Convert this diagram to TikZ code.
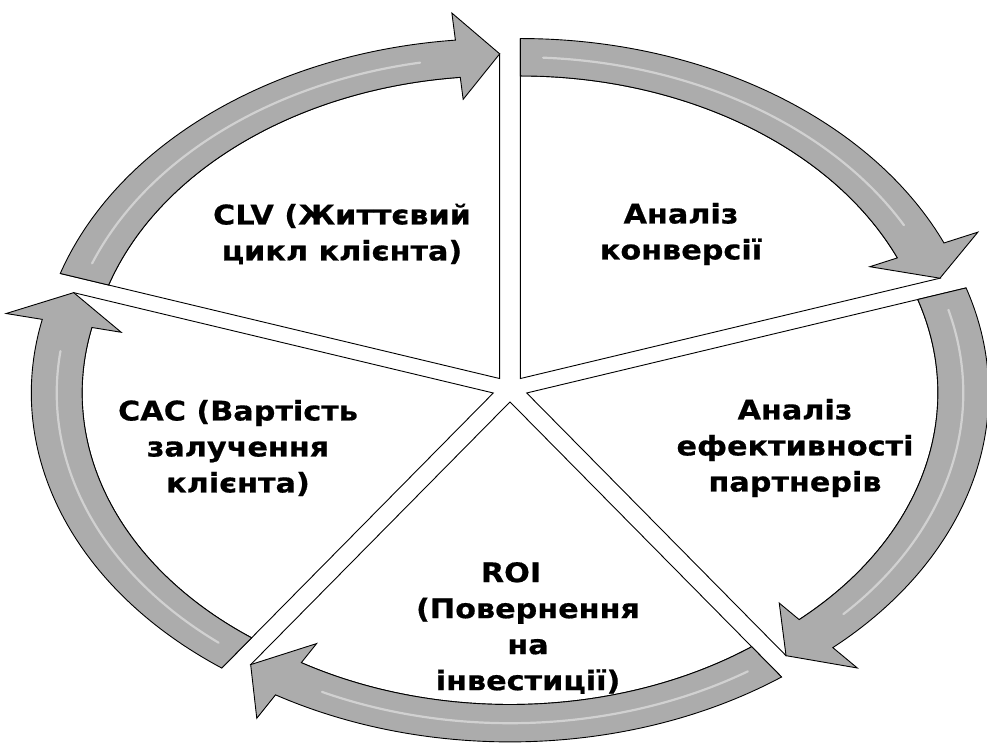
\documentclass[tikz,border=0pt]{standalone}
\usepackage{fontspec}
\newfontfamily\labfont{DejaVu Sans}[FakeStretch=1.12, BoldFeatures={FakeBold=0.6}]
\definecolor{bandgray}{RGB}{172,172,172}
\begin{document}
\begin{tikzpicture}[x=1pt,y=1pt,
  sectorshape/.style={fill=white, draw=black, line width=0.9pt, line join=miter},
  bandshape/.style={fill=bandgray, draw=black, line width=0.9pt, line join=miter},
  gloss/.style={draw=white, opacity=0.45, line width=2.2pt, line cap=round},
  lbl/.style={font=\labfont\bfseries\fontsize{27}{36}\selectfont, align=center, text=black}]
\useasboundingbox (0,0) rectangle (987,749);
\begin{scope}[shift={(510pt,360pt)}, x=462pt, y=340pt]
 \foreach \s/\e in {162/90, 90/18, 18/-54, -54/-126, -126/-198}{
   \pgfmathsetmacro\b{(\s+\e)/2}
   \pgfmathsetmacro\h{\e+5.5}
   \pgfmathsetmacro\gs{\s-3}
   \pgfmathsetmacro\ge{\h+5}
   \begin{scope}[shift={(\b:0.038)}]
     \filldraw[sectorshape] (0,0) -- (\s:1) -- (\s:0.89) arc[start angle=\s, end angle=\h, radius=0.89] -- (\e:0.955) -- cycle;
     \filldraw[bandshape] (\s:1) arc[start angle=\s, end angle=\h, radius=1] -- (\h:1.08) -- (\e:0.955) -- (\h:0.825) -- (\h:0.89) arc[start angle=\h, end angle=\s, radius=0.89] -- cycle;
     \draw[gloss] (\gs:0.945) arc[start angle=\gs, end angle=\ge, radius=0.945];
   \end{scope}
 }
\end{scope}
\node[lbl] (clv) at (342,515) {CLV (Життєвий\\цикл клієнта)};
\node[lbl] (conv) at (681,515) {Аналіз\\конверсії};
\node[lbl] (part) at (795,301) {Аналіз\\ефективності\\партнерів};
\node[lbl] (roi) at (528,121) {ROI\rule{34pt}{0pt}\\(Повернення\\на\\інвестиції)};
\node[lbl] (cac) at (238,301) {CAC (Вартість\\залучення\\клієнта)};
\end{tikzpicture}
\end{document}
